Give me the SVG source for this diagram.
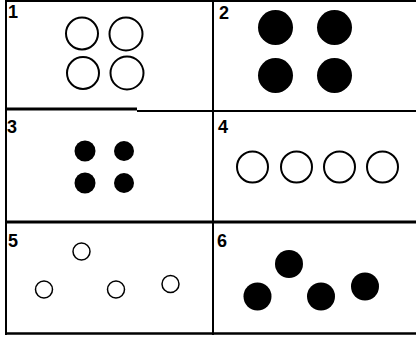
<svg xmlns="http://www.w3.org/2000/svg" width="416" height="339" viewBox="0 0 416 339">
<style>
.lbl{font-family:"Liberation Sans",Arial,sans-serif;font-weight:bold;font-size:18px;fill:#000}
.ring{fill:none;stroke:#000;stroke-width:2}
.ring-thin{fill:none;stroke:#000;stroke-width:1.5}
.dot{fill:#000}
.grid{stroke:#000;fill:none}
</style>
<rect width="416" height="339" fill="#fff"/>
<g id="grid">
<line class="grid" x1="5" y1="1" x2="416" y2="1" stroke-width="2" stroke="#222"/>
<line class="grid" x1="6" y1="0" x2="6" y2="335" stroke-width="2"/>
<line class="grid" x1="213" y1="0" x2="213" y2="335" stroke-width="2"/>
<line class="grid" x1="5" y1="109" x2="137" y2="109" stroke-width="3"/>
<line class="grid" x1="137" y1="111" x2="416" y2="111" stroke-width="2"/>
<line class="grid" x1="5" y1="222" x2="416" y2="222" stroke-width="3"/>
<line class="grid" x1="5" y1="333.5" x2="416" y2="333.5" stroke-width="2.5"/>
</g>
<g id="panel1">
<text class="lbl" x="8" y="18">1</text>
<circle class="ring" cx="82" cy="33.5" r="16"/>
<circle class="ring" cx="126" cy="34" r="16.5"/>
<circle class="ring" cx="83" cy="73" r="16"/>
<circle class="ring" cx="127" cy="73" r="16.5"/>
</g>
<g id="panel2">
<text class="lbl" x="219" y="19">2</text>
<circle class="dot" cx="275.5" cy="27.5" r="17.5"/>
<circle class="dot" cx="334.5" cy="27.5" r="17.5"/>
<circle class="dot" cx="275.5" cy="75.5" r="17.5"/>
<circle class="dot" cx="334.5" cy="75.5" r="17.5"/>
</g>
<g id="panel3">
<text class="lbl" x="7" y="133">3</text>
<circle class="dot" cx="85" cy="151" r="10.5"/>
<circle class="dot" cx="124" cy="151" r="10"/>
<circle class="dot" cx="85" cy="183" r="10.5"/>
<circle class="dot" cx="124" cy="183" r="10"/>
</g>
<g id="panel4">
<text class="lbl" x="218" y="133">4</text>
<circle class="ring" cx="252.5" cy="167" r="15.5"/>
<circle class="ring" cx="296.5" cy="167" r="15.5"/>
<circle class="ring" cx="339.5" cy="167" r="15.5"/>
<circle class="ring" cx="382.5" cy="167" r="15.5"/>
</g>
<g id="panel5">
<text class="lbl" x="8" y="247">5</text>
<circle class="ring-thin" cx="81.5" cy="251.5" r="8.5"/>
<circle class="ring-thin" cx="44" cy="289.5" r="8.5"/>
<circle class="ring-thin" cx="116" cy="289.5" r="8.5"/>
<circle class="ring-thin" cx="170.5" cy="284" r="8.5"/>
</g>
<g id="panel6">
<text class="lbl" x="217" y="247">6</text>
<circle class="dot" cx="289" cy="264" r="14"/>
<circle class="dot" cx="257.5" cy="296.5" r="14"/>
<circle class="dot" cx="321" cy="296.5" r="14"/>
<circle class="dot" cx="365" cy="286.5" r="14"/>
</g>
</svg>
